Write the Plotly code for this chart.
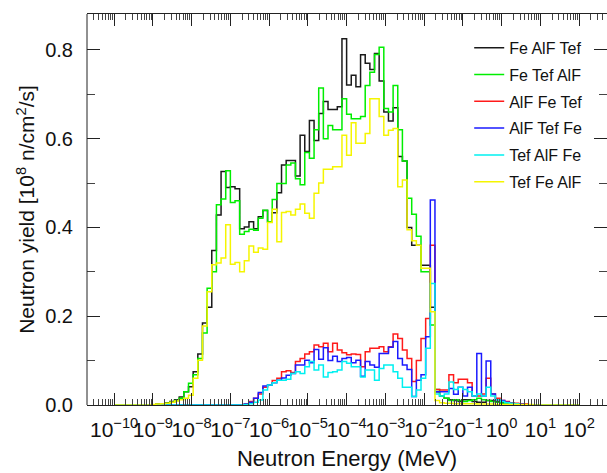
import numpy as np
import plotly.graph_objects as go

# Energy binning: 100 log-uniform bins from 1e-10 to 1e2 MeV
E_MIN_EXP = -10.0
DEC_PER_BIN = 0.12
N_BINS = 100
edges = 10 ** (E_MIN_EXP + DEC_PER_BIN * np.arange(N_BINS + 1))

series_names = ["Fe AlF Tef", "Fe Tef AlF", "AlF Fe Tef", "AlF Tef Fe", "Tef AlF Fe", "Tef Fe AlF"]

# decade tick exponents shown on the energy axis
tick_exponents = list(range(-10, 3))

fe_alf_tef = [
    0, 0, 0, 0, 0, 0, 0, 0, 0, 0.002,
    0.003, 0.005, 0.008, 0.012, 0.018, 0.030, 0.041, 0.075, 0.115, 0.185,
    0.220, 0.348, 0.428, 0.526, 0.490, 0.492, 0.487, 0.397, 0.401, 0.413,
    0.397, 0.424, 0.438, 0.413, 0.433, 0.478, 0.541, 0.551, 0.551, 0.516,
    0.608, 0.571, 0.641, 0.596, 0.657, 0.684, 0.666, 0.666, 0.672, 0.825,
    0.721, 0.743, 0.717, 0.789, 0.770, 0.756, 0.792, 0.730, 0.660, 0.640,
    0.670, 0.560, 0.550, 0.400, 0.360, 0.360, 0.315, 0.315, 0.220, 0.030,
    0.020, 0.015, 0.012, 0.010, 0.008, 0.012, 0.012, 0.008, 0.006, 0.006,
    0.010, 0.010, 0.008, 0.005, 0.004, 0.003, 0.002, 0.002, 0.001, 0,
    0, 0, 0, 0, 0, 0, 0, 0, 0, 0,
]
fe_tef_alf = [
    0, 0, 0, 0, 0, 0, 0, 0, 0, 0.001,
    0.002, 0.004, 0.006, 0.010, 0.015, 0.030, 0.049, 0.068, 0.105, 0.162,
    0.263, 0.300, 0.451, 0.464, 0.528, 0.456, 0.460, 0.385, 0.391, 0.396,
    0.394, 0.421, 0.439, 0.413, 0.463, 0.499, 0.499, 0.541, 0.545, 0.510,
    0.496, 0.569, 0.556, 0.620, 0.714, 0.600, 0.630, 0.620, 0.620, 0.690,
    0.655, 0.645, 0.645, 0.650, 0.720, 0.750, 0.790, 0.806, 0.668, 0.660,
    0.720, 0.620, 0.550, 0.466, 0.430, 0.380, 0.300, 0.300, 0.180, 0.035,
    0.020, 0.015, 0.010, 0.012, 0.010, 0.008, 0.010, 0.012, 0.015, 0.012,
    0.010, 0.008, 0.006, 0.004, 0.003, 0.002, 0.002, 0.001, 0, 0,
    0, 0, 0, 0, 0, 0, 0, 0, 0, 0,
]
alf_fe_tef = [
    0, 0, 0, 0, 0, 0, 0, 0, 0, 0,
    0, 0, 0, 0, 0, 0, 0, 0, 0, 0,
    0, 0, 0, 0, 0, 0, 0, 0, 0.003, 0.008,
    0.015, 0.025, 0.040, 0.045, 0.055, 0.060, 0.075, 0.077, 0.073, 0.098,
    0.105, 0.115, 0.120, 0.135, 0.131, 0.139, 0.120, 0.139, 0.124, 0.118,
    0.113, 0.115, 0.114, 0.086, 0.120, 0.128, 0.128, 0.131, 0.120, 0.131,
    0.160, 0.150, 0.124, 0.105, 0.053, 0.100, 0.150, 0.195, 0.360, 0.035,
    0.034, 0.034, 0.068, 0.050, 0.058, 0.058, 0.050, 0.020, 0.020, 0.025,
    0.060, 0.025, 0.015, 0.010, 0.008, 0.005, 0.004, 0.003, 0.002, 0,
    0, 0, 0, 0, 0, 0, 0, 0, 0, 0,
]
alf_tef_fe = [
    0, 0, 0, 0, 0, 0, 0, 0, 0, 0,
    0, 0, 0, 0, 0, 0, 0, 0, 0, 0,
    0, 0, 0, 0, 0, 0, 0, 0, 0.002, 0.006,
    0.015, 0.028, 0.043, 0.045, 0.050, 0.056, 0.061, 0.067, 0.071, 0.090,
    0.090, 0.101, 0.095, 0.125, 0.103, 0.129, 0.100, 0.110, 0.098, 0.105,
    0.107, 0.095, 0.101, 0.065, 0.098, 0.090, 0.085, 0.116, 0.116, 0.130,
    0.143, 0.105, 0.090, 0.080, 0.019, 0.056, 0.068, 0.154, 0.462, 0.030,
    0.030, 0.030, 0.037, 0.024, 0.040, 0.020, 0.040, 0.020, 0.116, 0.020,
    0.099, 0.025, 0.012, 0.010, 0.006, 0.004, 0.003, 0.002, 0, 0,
    0, 0, 0, 0, 0, 0, 0, 0, 0, 0,
]
tef_alf_fe = [
    0, 0, 0, 0, 0, 0, 0, 0, 0, 0,
    0, 0, 0, 0, 0, 0, 0, 0, 0, 0,
    0, 0, 0, 0, 0, 0, 0, 0, 0.001, 0.003,
    0.006, 0.011, 0.034, 0.045, 0.050, 0.056, 0.056, 0.058, 0.071, 0.075,
    0.071, 0.086, 0.098, 0.079, 0.090, 0.063, 0.073, 0.075, 0.079, 0.098,
    0.094, 0.086, 0.086, 0.063, 0.079, 0.079, 0.056, 0.082, 0.090, 0.090,
    0.075, 0.060, 0.040, 0.040, 0.019, 0.034, 0.060, 0.128, 0.274, 0.025,
    0.020, 0.025, 0.052, 0.035, 0.040, 0.035, 0.030, 0.020, 0.025, 0.020,
    0.040, 0.020, 0.012, 0.008, 0.005, 0.004, 0.003, 0, 0, 0,
    0, 0, 0, 0, 0, 0, 0, 0, 0, 0,
]
tef_fe_alf = [
    0, 0, 0, 0, 0, 0, 0, 0, 0.001, 0.002,
    0.003, 0.004, 0.006, 0.009, 0.012, 0.015, 0.022, 0.060, 0.101, 0.178,
    0.255, 0.316, 0.320, 0.331, 0.406, 0.317, 0.321, 0.300, 0.325, 0.358,
    0.344, 0.354, 0.351, 0.411, 0.441, 0.368, 0.434, 0.436, 0.428, 0.441,
    0.453, 0.432, 0.421, 0.477, 0.500, 0.531, 0.531, 0.537, 0.537, 0.608,
    0.563, 0.636, 0.590, 0.590, 0.612, 0.690, 0.690, 0.650, 0.608, 0.619,
    0.623, 0.492, 0.507, 0.395, 0.370, 0.360, 0.308, 0.308, 0.210, 0.010,
    0.005, 0.004, 0.004, 0.003, 0.003, 0.003, 0.003, 0.003, 0.002, 0.002,
    0.002, 0.002, 0.001, 0.001, 0.001, 0.001, 0.001, 0.001, 0.001, 0.001,
    0, 0, 0, 0, 0, 0, 0, 0, 0, 0,
]

all_series = [fe_alf_tef, fe_tef_alf, alf_fe_tef, alf_tef_fe, tef_alf_fe, tef_fe_alf]
colors = ["#1a1a1a", "#00ee00", "#ff1a1a", "#1a1aff", "#00f0f0", "#f5f500"]

FONT = "Liberation Sans, Arial, Helvetica, sans-serif"
TXT = "#111"

fig = go.Figure()
for i, (name, vals, col) in enumerate(zip(series_names, all_series, colors)):
    y = list(vals) + [vals[-1]]
    fig.add_trace(go.Scatter(
        x=edges, y=y, mode="lines", name=name,
        line=dict(color=col, width=1.5, shape="hv"),
        legendgroup=f"g{i}",
    ))

tickvals = [10.0 ** e for e in tick_exponents]
ticktext = [
    "10<sup>%s</sup>" % (("\u2212%d" % -e) if e < 0 else "%d" % e)
    for e in tick_exponents
]
minor_vals = [k * 10.0 ** e for e in range(-11, 3) for k in range(2, 10)]

fig.update_layout(
    width=607, height=473,
    margin=dict(l=87, r=0, t=14, b=68),
    paper_bgcolor="white", plot_bgcolor="white",
    font=dict(family=FONT, color=TXT, size=19),
    showlegend=True,
    legend=dict(
        x=0.735, y=0.957, xanchor="left", yanchor="top",
        bgcolor="rgba(0,0,0,0)", borderwidth=0,
        font=dict(size=16, family=FONT, color=TXT),
        tracegroupgap=3,
    ),
    # left frame edge (the right frame edge lies just outside the picture)
    shapes=[dict(type="line", xref="paper", yref="paper", x0=0, x1=0, y0=0, y1=1,
                 line=dict(color="#222", width=1), layer="above")],
)

fig.update_xaxes(
    type="log", range=[-10.70, 2.72],
    tickmode="array", tickvals=tickvals, ticktext=ticktext, tickangle=0,
    ticks="inside", ticklen=12, tickwidth=1, tickcolor="#222",
    minor=dict(ticks="inside", ticklen=6, tickwidth=1, tickcolor="#444",
               tickmode="array", tickvals=minor_vals, showgrid=False),
    showline=True, linecolor="#222", linewidth=1, mirror="allticks",
    showgrid=False, zeroline=False,
    ticklabelstandoff=6,
    tickfont=dict(size=21, family=FONT, color=TXT),
    title=dict(text="Neutron Energy (MeV)", font=dict(size=22, family=FONT, color=TXT), standoff=10),
)
fig.update_yaxes(
    range=[0, 0.881],
    tickvals=[0, 0.2, 0.4, 0.6, 0.8], tickformat=".1f",
    ticks="inside", ticklen=13, tickwidth=1, tickcolor="#222",
    minor=dict(ticks="inside", ticklen=8, tickwidth=1, tickcolor="#444", dtick=0.1, tick0=0, showgrid=False),
    showline=False, mirror="allticks",
    showgrid=False, zeroline=False,
    ticklabelstandoff=13,
    tickfont=dict(size=20, family=FONT, color=TXT),
    title=dict(text="Neutron yield [10<sup>8</sup> n/cm<sup>2</sup>/s]",
               font=dict(size=21, family=FONT, color=TXT), standoff=4),
)

fig.write_html("out.html")
